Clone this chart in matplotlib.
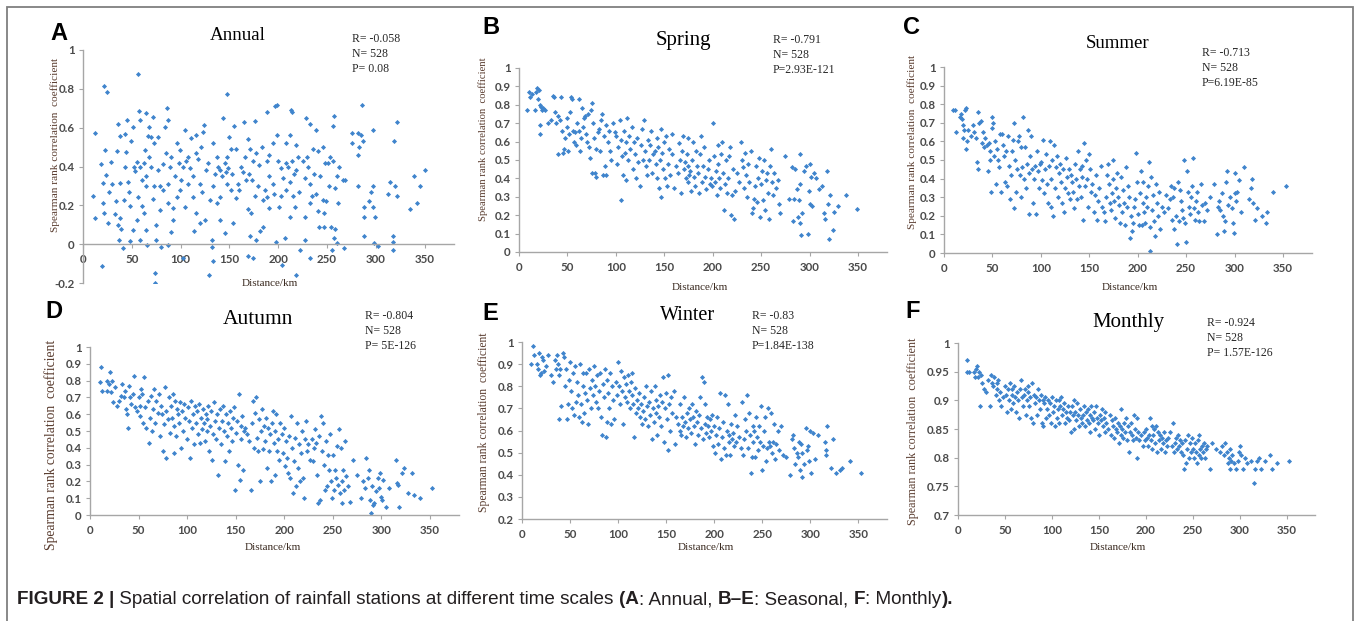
import numpy as np
import matplotlib
matplotlib.use("Agg")
import matplotlib.pyplot as plt
from matplotlib import font_manager
from matplotlib.patches import Rectangle

# ---- data: (distance km, Spearman rank correlation) ----
annual = np.array([
    (21,0.815),(25,0.786),(56,0.875),(147,0.772),(19,-0.11),(74,-0.146),(74,-0.2),(129,-0.16),(204,-0.106),(218,-0.158),
    (286,0.717),(197,0.71),(199,0.717),(188,0.68),(213,0.69),(214,0.68),(322,0.63),(297,0.59),(350,0.38),(339,0.35),
    (345,0.30),(342,0.21),(335,0.18),(319,0.53),(322,0.25),(320,0.30),(276,0.57),(282,0.57),(285,0.56),(287,0.53),
    (283,0.50),(282,0.46),(276,0.52),(297,0.30),(295,0.27),(293,0.22),(297,0.19),(288,0.19),(288,0.14),(299,0.14),
    (298,0.005),(302,-0.01),(312,0.26),(314,0.32),(318,0.04),(318,0.01),(318,-0.03),(288,0.04),(282,0.30),(256,0.61),
    (257,0.66),(253,0.45),(256,0.43),(251,0.42),(262,0.40),(260,0.35),(258,0.29),(261,0.21),(246,0.23),(249,0.22),
    (254,0.09),(258,0.08),(255,-0.03),(257,0.03),(266,0.33),(267,-0.02),(260,0.005),(228,0.65),(233,0.62),(239,0.59),
    (246,0.50),(241,0.48),(236,0.49),(229,0.45),(227,0.34),(232,0.31),(237,0.36),(239,0.26),(241,0.17),(233,0.21),
    (227,0.14),(242,0.09),(247,0.09),(227,0.02),(222,-0.03),(232,-0.07),(247,0.16),(203,0.39),(208,0.42),(212,0.56),
    (214,0.43),(218,0.38),(212,0.32),(208,0.28),(203,0.25),(215,0.25),(212,0.14),(217,0.19),(201,0.19),(198,0.01),
    (207,0.03),(199,0.56),(220,0.45),(218,0.51),(208,0.52),(195,0.52),(169,0.54),(171,0.49),(174,0.43),(177,0.47),
    (183,0.50),(188,0.43),(191,0.35),(179,0.30),(184,0.23),(176,0.25),(169,0.18),(172,0.16),(181,0.07),(184,0.09),
    (171,0.04),(177,0.02),(169,-0.06),(174,-0.07),(191,0.185),(195,0.31),(164,0.37),(159,0.31),(157,0.24),(165,0.63),
    (176,0.635),(188,0.245),(133,0.52),(137,0.45),(140,0.38),(145,0.42),(148,0.45),(152,0.49),(150,0.55),(155,0.61),
    (143,0.65),(142,0.35),(147,0.31),(152,0.28),(157,0.49),(162,0.40),(133,0.30),(137,0.21),(140,0.125),(145,0.06),
    (154,0.11),(132,0.02),(132,-0.015),(133,-0.085),(140,0.245),(130,0.23),(104,0.59),(111,0.545),(116,0.56),(123,0.58),
    (124,0.615),(121,0.50),(116,0.47),(108,0.45),(102,0.40),(113,0.35),(108,0.31),(120,0.31),(99,0.28),(96,0.245),
    (104,0.19),(113,0.245),(116,0.16),(120,0.11),(114,0.07),(125,0.125),(92,0.185),(92,0.125),(90,0.065),(102,-0.07),
    (96,0.52),(90,0.45),(99,0.485),(126,0.38),(57,0.685),(58,0.64),(65,0.675),(68,0.605),(72,0.655),(67,0.555),
    (70,0.55),(77,0.55),(73,0.52),(63,0.485),(55,0.425),(58,0.40),(65,0.35),(70,0.40),(73,0.30),(72,0.235),
    (65,0.30),(60,0.195),(56,0.245),(62,0.16),(65,0.075),(51,0.075),(55,0.125),(58,0.02),(66,-0.005),(75,0.02),
    (79,0.175),(79,0.30),(82,0.415),(84,0.605),(86,0.70),(87,0.64),(85,0.47),(89,0.40),(87,0.31),(87,0.21),
    (80,-0.015),(87,-0.005),(75,0.10),(10,0.25),(12,0.135),(12,0.575),(18,0.415),(20,0.315),(20,0.21),(24,0.355),
    (23,0.485),(26,0.11),(22,0.16),(29,0.425),(27,0.27),(33,0.155),(34,0.22),(36,0.62),(38,0.555),(38,0.315),
    (38,0.135),(39,0.08),(41,-0.02),(43,0.565),(44,0.475),(43,0.40),(45,0.64),(46,0.32),(48,0.195),(49,0.53),
    (51,0.605),(53,0.375),(48,0.015),(37,0.02),(36,0.10),(268,0.33),(167,0.33),(105,0.43),(110,0.39),(118,0.44),
    (122,0.27),(128,0.42),(135,0.36),(138,0.40),(146,0.37),(149,0.39),(153,0.36),(160,0.28),(166,0.45),(170,0.36),
    (173,0.33),(180,0.41),(186,0.28),(190,0.46),(196,0.26),(200,0.43),(205,0.34),(210,0.40),(216,0.36),(221,0.27),
    (225,0.43),(230,0.40),(235,0.25),(243,0.35),(248,0.42),(252,0.30),(94,0.35),(98,0.42),(100,0.33),(82,0.28),
    (77,0.38),(68,0.45),(60,0.33),(62,0.42),(52,0.40),(47,0.27),(42,0.23),(30,0.31),(35,0.48),
])

spring = np.array([
    (8,0.77),(10,0.87),(11,0.84),(13,0.86),(17,0.77),(18,0.87),(19,0.89),(20,0.83),(21,0.88),(22,0.80),
    (23,0.79),(24,0.77),(22,0.69),(22,0.64),(25,0.78),(27,0.77),(30,0.70),(33,0.72),(35,0.85),(36,0.84),
    (37,0.76),(38,0.70),(40,0.74),(40,0.53),(42,0.72),(43,0.84),(44,0.66),(45,0.54),(46,0.56),(48,0.62),
    (50,0.73),(50,0.68),(51,0.55),(52,0.64),(53,0.76),(54,0.84),(55,0.83),(56,0.66),(57,0.60),(58,0.65),
    (59,0.58),(60,0.70),(62,0.83),(62,0.66),(63,0.55),(64,0.62),(65,0.78),(66,0.68),(67,0.73),(68,0.74),
    (69,0.64),(70,0.60),(71,0.75),(72,0.57),(73,0.51),(74,0.77),(75,0.81),(75,0.43),(76,0.70),(77,0.62),
    (78,0.43),(79,0.56),(80,0.41),(82,0.65),(83,0.67),(84,0.55),(85,0.72),(86,0.75),(87,0.42),(88,0.63),
    (89,0.47),(90,0.69),(90,0.42),(92,0.60),(93,0.66),(94,0.55),(95,0.50),(97,0.70),(99,0.65),(100,0.63),
    (101,0.48),(102,0.57),(104,0.72),(105,0.28),(105,0.61),(106,0.52),(107,0.42),(108,0.66),(109,0.54),(110,0.39),
    (110,0.60),(112,0.73),(113,0.50),(114,0.63),(115,0.56),(117,0.68),(118,0.45),(119,0.60),(120,0.53),(121,0.40),
    (122,0.62),(123,0.49),(125,0.36),(126,0.58),(127,0.67),(128,0.50),(129,0.72),(130,0.55),(131,0.47),(132,0.42),
    (133,0.61),(134,0.50),(135,0.58),(136,0.66),(137,0.43),(138,0.53),(140,0.55),(141,0.48),(142,0.62),(143,0.40),
    (144,0.57),(145,0.35),(146,0.50),(147,0.30),(147,0.67),(148,0.54),(149,0.45),(150,0.60),(151,0.40),(152,0.63),
    (153,0.36),(154,0.48),(155,0.56),(156,0.42),(158,0.64),(158,0.53),(160,0.35),(162,0.47),(164,0.43),(165,0.59),
    (166,0.50),(167,0.32),(168,0.55),(169,0.63),(170,0.45),(171,0.49),(172,0.40),(173,0.53),(174,0.38),(175,0.47),
    (175,0.62),(176,0.42),(177,0.44),(178,0.33),(179,0.50),(180,0.60),(181,0.41),(182,0.36),(183,0.55),(184,0.47),
    (185,0.43),(186,0.32),(187,0.53),(188,0.63),(189,0.38),(190,0.47),(191,0.57),(192,0.41),(193,0.34),(195,0.45),
    (196,0.50),(197,0.37),(198,0.40),(199,0.36),(200,0.70),(201,0.52),(202,0.38),(203,0.44),(204,0.31),(205,0.48),
    (206,0.58),(207,0.40),(208,0.35),(209,0.53),(210,0.60),(211,0.43),(212,0.23),(213,0.37),(214,0.50),(215,0.32),
    (216,0.40),(217,0.52),(218,0.57),(219,0.20),(220,0.31),(221,0.45),(222,0.18),(223,0.33),(225,0.43),(227,0.38),
    (229,0.60),(230,0.50),(231,0.46),(232,0.35),(233,0.54),(234,0.42),(235,0.30),(236,0.48),(238,0.38),(240,0.55),
    (241,0.21),(242,0.24),(243,0.29),(244,0.36),(245,0.47),(246,0.27),(247,0.40),(248,0.51),(249,0.19),(250,0.37),
    (251,0.44),(252,0.28),(253,0.50),(254,0.23),(255,0.39),(256,0.43),(257,0.32),(258,0.18),(259,0.47),(260,0.56),
    (261,0.38),(262,0.31),(263,0.43),(265,0.35),(267,0.39),(268,0.26),(270,0.21),(275,0.52),(279,0.29),(282,0.46),
    (283,0.17),(284,0.29),(285,0.45),(287,0.34),(288,0.19),(289,0.28),(290,0.37),(290,0.53),(290,0.16),(291,0.09),
    (292,0.21),(294,0.44),(296,0.47),(298,0.10),(299,0.33),(300,0.26),(301,0.48),(302,0.41),(303,0.25),(305,0.43),
    (307,0.40),(310,0.34),(313,0.36),(315,0.21),(316,0.18),(318,0.44),(319,0.26),(321,0.31),(320,0.07),(325,0.22),
    (324,0.12),(329,0.25),(338,0.31),(349,0.235),
])

summer = np.array([
    (9,0.77),(11,0.77),(12,0.65),(17,0.73),(18,0.75),(19,0.72),(20,0.69),(20,0.62),(21,0.66),(22,0.77),
    (23,0.78),(23,0.56),(24,0.60),(25,0.66),(28,0.63),(30,0.69),(31,0.65),(33,0.62),(34,0.49),(35,0.76),
    (35,0.45),(36,0.70),(38,0.71),(39,0.59),(40,0.65),(41,0.57),(42,0.62),(44,0.58),(45,0.44),(46,0.59),
    (47,0.50),(48,0.55),(49,0.33),(50,0.73),(50,0.67),(51,0.70),(52,0.52),(53,0.60),(54,0.37),(55,0.56),
    (56,0.50),(57,0.46),(58,0.64),(59,0.33),(60,0.64),(61,0.58),(62,0.52),(63,0.38),(64,0.55),(65,0.36),
    (66,0.63),(67,0.47),(68,0.29),(69,0.42),(70,0.55),(71,0.61),(72,0.24),(72,0.70),(73,0.50),(74,0.33),
    (75,0.45),(76,0.60),(77,0.63),(78,0.42),(79,0.30),(80,0.57),(81,0.46),(82,0.73),(83,0.40),(84,0.57),
    (85,0.35),(86,0.48),(87,0.66),(88,0.21),(88,0.43),(89,0.52),(90,0.63),(91,0.45),(92,0.27),(93,0.40),
    (94,0.47),(95,0.21),(96,0.55),(97,0.44),(98,0.35),(99,0.48),(100,0.49),(101,0.39),(102,0.61),(103,0.32),
    (104,0.45),(105,0.53),(106,0.37),(107,0.27),(108,0.47),(109,0.60),(110,0.25),(111,0.40),(112,0.50),(113,0.20),
    (114,0.58),(115,0.35),(116,0.46),(117,0.52),(118,0.30),(119,0.43),(120,0.48),(121,0.38),(122,0.27),(123,0.45),
    (124,0.22),(125,0.35),(126,0.51),(127,0.41),(128,0.32),(129,0.45),(130,0.29),(131,0.42),(132,0.38),(133,0.33),
    (134,0.24),(135,0.48),(136,0.40),(137,0.29),(138,0.55),(139,0.36),(140,0.45),(141,0.30),(142,0.47),(143,0.41),
    (144,0.18),(145,0.59),(146,0.36),(147,0.50),(148,0.40),(149,0.25),(150,0.53),(151,0.45),(152,0.33),(153,0.37),
    (155,0.22),(156,0.31),(157,0.42),(158,0.18),(159,0.28),(160,0.35),(162,0.47),(163,0.25),(165,0.22),(166,0.17),
    (167,0.30),(168,0.42),(169,0.48),(170,0.37),(171,0.27),(172,0.23),(173,0.32),(174,0.40),(175,0.50),(176,0.28),
    (177,0.19),(178,0.35),(179,0.43),(180,0.30),(181,0.26),(182,0.16),(183,0.41),(184,0.22),(185,0.34),(186,0.27),
    (187,0.15),(188,0.46),(189,0.25),(190,0.36),(191,0.30),(192,0.08),(193,0.20),(194,0.12),(195,0.16),(196,0.25),
    (197,0.29),(198,0.54),(199,0.38),(200,0.21),(201,0.15),(202,0.32),(203,0.44),(204,0.15),(205,0.27),(206,0.38),
    (207,0.22),(208,0.16),(209,0.30),(210,0.25),(211,0.36),(212,0.49),(213,0.14),(213,0.01),(214,0.41),(215,0.23),
    (216,0.31),(217,0.17),(218,0.09),(219,0.37),(220,0.27),(221,0.20),(222,0.33),(223,0.13),(225,0.25),(227,0.22),
    (229,0.31),(231,0.24),(233,0.29),(234,0.36),(235,0.18),(236,0.30),(237,0.13),(238,0.35),(240,0.20),(241,0.05),
    (242,0.38),(243,0.17),(244,0.34),(245,0.28),(246,0.23),(247,0.19),(248,0.50),(249,0.16),(250,0.06),(251,0.44),
    (252,0.33),(253,0.25),(254,0.21),(255,0.30),(256,0.36),(257,0.51),(258,0.24),(259,0.18),(260,0.28),(261,0.33),
    (262,0.22),(263,0.17),(265,0.37),(266,0.26),(268,0.17),(270,0.27),(272,0.23),(275,0.30),(279,0.37),(282,0.10),
    (283,0.25),(284,0.28),(285,0.23),(287,0.32),(288,0.20),(289,0.12),(290,0.17),(291,0.38),(292,0.44),(293,0.26),
    (295,0.30),(297,0.24),(298,0.16),(299,0.11),(300,0.32),(301,0.43),(302,0.28),(303,0.33),(305,0.39),(307,0.22),
    (310,0.46),(315,0.29),(317,0.35),(318,0.40),(319,0.27),(321,0.18),(323,0.24),(328,0.20),(332,0.16),(334,0.22),
    (340,0.33),(353,0.36),
])

autumn = np.array([
    (10,0.79),(11,0.88),(12,0.74),(18,0.74),(18,0.80),(20,0.78),(21,0.85),(22,0.73),(23,0.80),(24,0.67),
    (26,0.76),(28,0.65),(30,0.68),(32,0.71),(33,0.78),(35,0.70),(36,0.74),(37,0.63),(38,0.60),(39,0.52),
    (40,0.77),(41,0.70),(42,0.66),(44,0.72),(45,0.83),(46,0.64),(48,0.62),(50,0.70),(51,0.65),(52,0.59),
    (53,0.75),(54,0.72),(55,0.55),(56,0.82),(57,0.64),(58,0.52),(60,0.68),(61,0.43),(62,0.58),(63,0.71),
    (64,0.50),(65,0.63),(66,0.75),(67,0.55),(68,0.68),(70,0.61),(71,0.72),(72,0.47),(73,0.65),(74,0.60),
    (75,0.38),(76,0.54),(77,0.76),(78,0.34),(78,0.62),(80,0.57),(81,0.70),(82,0.49),(83,0.65),(84,0.58),
    (85,0.72),(86,0.37),(87,0.53),(88,0.68),(89,0.47),(90,0.63),(91,0.60),(92,0.55),(93,0.67),(94,0.40),
    (95,0.62),(96,0.50),(97,0.66),(98,0.58),(100,0.45),(101,0.64),(102,0.56),(103,0.34),(104,0.68),(105,0.52),
    (106,0.60),(107,0.42),(108,0.65),(109,0.55),(110,0.62),(111,0.48),(112,0.66),(113,0.43),(114,0.58),(115,0.51),
    (116,0.63),(117,0.55),(118,0.44),(119,0.60),(120,0.50),(121,0.57),(122,0.65),(123,0.38),(124,0.53),(125,0.62),
    (126,0.33),(127,0.48),(128,0.67),(129,0.56),(130,0.45),(131,0.60),(132,0.24),(133,0.52),(134,0.63),(135,0.42),
    (136,0.56),(137,0.65),(138,0.50),(139,0.32),(140,0.60),(141,0.47),(142,0.55),(143,0.38),(144,0.62),(145,0.52),
    (146,0.44),(147,0.58),(148,0.64),(149,0.15),(150,0.49),(151,0.56),(152,0.30),(153,0.72),(154,0.21),(155,0.53),
    (156,0.45),(157,0.59),(158,0.27),(159,0.50),(160,0.52),(162,0.48),(164,0.44),(166,0.15),(167,0.55),(168,0.68),
    (169,0.40),(170,0.61),(171,0.70),(172,0.46),(173,0.38),(174,0.57),(175,0.20),(176,0.50),(177,0.63),(178,0.39),
    (179,0.53),(180,0.44),(181,0.58),(182,0.28),(183,0.52),(184,0.38),(185,0.48),(186,0.20),(187,0.55),(188,0.62),
    (189,0.43),(190,0.24),(191,0.50),(192,0.60),(193,0.38),(194,0.45),(195,0.33),(196,0.55),(198,0.48),(199,0.37),
    (200,0.52),(201,0.29),(202,0.44),(203,0.34),(204,0.25),(205,0.47),(206,0.22),(207,0.59),(208,0.40),(209,0.13),
    (210,0.32),(211,0.46),(212,0.17),(213,0.55),(214,0.28),(215,0.42),(216,0.20),(217,0.37),(218,0.50),(219,0.22),
    (220,0.10),(221,0.45),(222,0.56),(223,0.38),(225,0.42),(227,0.33),(229,0.45),(230,0.32),(231,0.40),(232,0.51),
    (233,0.43),(234,0.24),(235,0.07),(236,0.47),(237,0.09),(238,0.59),(239,0.38),(240,0.55),(241,0.30),(242,0.15),
    (243,0.44),(244,0.17),(245,0.36),(246,0.27),(247,0.48),(248,0.20),(249,0.10),(250,0.36),(251,0.15),(252,0.27),
    (253,0.22),(254,0.41),(255,0.18),(256,0.51),(257,0.13),(258,0.40),(259,0.07),(260,0.20),(261,0.27),(262,0.15),
    (263,0.44),(264,0.23),(266,0.17),(268,0.08),(271,0.33),(275,0.24),(279,0.10),(281,0.20),(283,0.16),(284,0.34),
    (286,0.22),(287,0.27),(288,0.09),(289,0.01),(290,0.17),(291,0.06),(292,0.07),(295,0.14),(297,0.22),(298,0.16),
    (299,0.25),(300,0.11),(301,0.09),(302,0.21),(305,0.05),(308,0.16),(315,0.33),(316,0.19),(317,0.18),(318,0.05),
    (321,0.25),(323,0.28),(327,0.13),(332,0.25),(334,0.12),(340,0.10),(352,0.16),
])

winter = np.array([
    (9,0.90),(11,0.98),(12,0.94),(16,0.90),(17,0.88),(18,0.95),(19,0.85),(20,0.86),(21,0.93),(22,0.92),
    (23,0.87),(25,0.89),(27,0.94),(30,0.85),(32,0.82),(34,0.92),(35,0.88),(36,0.94),(37,0.90),(38,0.85),
    (39,0.65),(40,0.88),(41,0.71),(43,0.95),(44,0.93),(45,0.80),(46,0.88),(47,0.65),(48,0.72),(49,0.83),
    (50,0.91),(51,0.78),(52,0.70),(53,0.86),(54,0.67),(55,0.89),(56,0.73),(57,0.82),(58,0.76),(59,0.66),
    (60,0.90),(61,0.72),(62,0.64),(63,0.80),(64,0.86),(65,0.68),(66,0.77),(67,0.86),(68,0.74),(69,0.63),
    (70,0.88),(71,0.79),(72,0.70),(73,0.83),(74,0.76),(75,0.89),(76,0.80),(77,0.73),(78,0.85),(79,0.70),
    (80,0.78),(81,0.86),(82,0.66),(83,0.58),(84,0.81),(85,0.75),(86,0.88),(87,0.57),(88,0.64),(89,0.83),
    (90,0.77),(91,0.70),(92,0.86),(93,0.63),(94,0.80),(95,0.74),(96,0.65),(98,0.82),(99,0.76),(100,0.91),
    (101,0.80),(102,0.72),(103,0.87),(104,0.78),(105,0.63),(106,0.84),(107,0.75),(108,0.81),(109,0.73),(110,0.85),
    (111,0.78),(112,0.70),(113,0.82),(114,0.76),(115,0.86),(116,0.72),(117,0.57),(118,0.79),(119,0.68),(120,0.74),
    (121,0.70),(122,0.77),(123,0.66),(124,0.72),(125,0.63),(126,0.69),(127,0.75),(128,0.65),(129,0.80),(130,0.71),
    (131,0.62),(132,0.73),(133,0.67),(134,0.78),(135,0.56),(136,0.70),(137,0.64),(138,0.80),(139,0.68),(140,0.74),
    (141,0.58),(142,0.71),(143,0.66),(144,0.76),(145,0.62),(146,0.73),(147,0.84),(148,0.55),(149,0.70),(150,0.77),
    (151,0.65),(152,0.51),(152,0.85),(153,0.72),(154,0.60),(155,0.75),(156,0.68),(158,0.78),(159,0.54),(160,0.66),
    (162,0.63),(164,0.60),(165,0.72),(166,0.58),(167,0.66),(168,0.62),(169,0.75),(170,0.64),(171,0.57),(172,0.68),
    (173,0.61),(174,0.70),(175,0.65),(176,0.59),(177,0.72),(178,0.66),(179,0.62),(180,0.54),(181,0.69),(182,0.64),
    (183,0.58),(184,0.67),(185,0.75),(186,0.61),(187,0.84),(188,0.56),(189,0.82),(190,0.63),(191,0.72),(192,0.59),
    (193,0.66),(194,0.62),(195,0.57),(196,0.65),(197,0.60),(198,0.67),(199,0.53),(200,0.62),(201,0.50),(202,0.58),
    (203,0.66),(204,0.54),(205,0.61),(206,0.77),(207,0.47),(208,0.57),(209,0.64),(210,0.52),(211,0.76),(212,0.49),
    (213,0.60),(214,0.72),(215,0.55),(216,0.58),(217,0.49),(218,0.63),(219,0.56),(220,0.59),(221,0.53),(222,0.67),
    (223,0.55),(224,0.62),(226,0.57),(228,0.52),(229,0.73),(230,0.49),(231,0.56),(232,0.65),(233,0.60),(234,0.76),
    (235,0.52),(236,0.68),(237,0.58),(238,0.41),(239,0.48),(240,0.62),(241,0.55),(242,0.60),(243,0.48),(244,0.66),
    (245,0.57),(246,0.51),(247,0.62),(248,0.55),(249,0.71),(250,0.42),(251,0.53),(252,0.60),(253,0.66),(254,0.46),
    (255,0.52),(256,0.70),(257,0.55),(258,0.53),(259,0.68),(260,0.50),(261,0.55),(262,0.63),(263,0.47),(264,0.54),
    (266,0.60),(268,0.51),(270,0.62),(272,0.49),(275,0.48),(279,0.40),(281,0.56),(282,0.58),(283,0.52),(284,0.45),
    (286,0.50),(287,0.48),(288,0.55),(289,0.42),(290,0.54),(291,0.39),(292,0.50),(294,0.45),(296,0.61),(297,0.51),
    (298,0.53),(299,0.46),(300,0.60),(301,0.41),(303,0.59),(305,0.47),(308,0.58),(318,0.62),(315,0.55),(316,0.51),
    (317,0.49),(322,0.43),(324,0.56),(327,0.41),(331,0.42),(333,0.43),(341,0.46),(353,0.41),
])

monthly = np.array([
    (10,0.97),(10,0.95),(12,0.95),(17,0.95),(18,0.94),(19,0.955),(20,0.96),(21,0.94),(22,0.95),(23,0.89),
    (24,0.945),(26,0.93),(28,0.92),(30,0.915),(32,0.935),(34,0.89),(35,0.945),(36,0.93),(37,0.925),(38,0.94),
    (40,0.91),(41,0.93),(42,0.92),(43,0.935),(44,0.90),(45,0.915),(46,0.89),(48,0.905),(50,0.925),(51,0.91),
    (52,0.88),(53,0.92),(54,0.90),(55,0.93),(56,0.885),(57,0.91),(58,0.92),(59,0.895),(60,0.925),(61,0.905),
    (62,0.88),(63,0.915),(64,0.90),(65,0.87),(66,0.92),(67,0.935),(68,0.905),(69,0.89),(70,0.91),(71,0.92),
    (72,0.875),(73,0.90),(74,0.915),(75,0.925),(76,0.89),(77,0.905),(78,0.87),(79,0.93),(80,0.86),(81,0.91),
    (82,0.895),(83,0.905),(84,0.875),(85,0.92),(86,0.90),(87,0.885),(88,0.91),(89,0.86),(90,0.90),(91,0.855),
    (92,0.895),(93,0.905),(94,0.87),(95,0.885),(96,0.90),(97,0.875),(98,0.895),(99,0.86),(100,0.905),(101,0.88),
    (102,0.89),(103,0.855),(104,0.90),(105,0.87),(106,0.885),(107,0.90),(108,0.86),(109,0.89),(110,0.905),(111,0.875),
    (112,0.885),(113,0.895),(114,0.86),(115,0.88),(116,0.87),(117,0.89),(118,0.865),(119,0.88),(120,0.845),(121,0.89),
    (122,0.875),(123,0.90),(124,0.85),(125,0.88),(126,0.865),(127,0.895),(128,0.875),(129,0.855),(130,0.885),(131,0.87),
    (132,0.86),(133,0.875),(134,0.89),(135,0.855),(136,0.88),(137,0.865),(138,0.885),(139,0.86),(140,0.875),(141,0.845),
    (142,0.89),(143,0.87),(144,0.865),(145,0.88),(146,0.85),(147,0.89),(148,0.87),(149,0.86),(150,0.84),(151,0.875),
    (152,0.865),(153,0.885),(154,0.855),(155,0.87),(156,0.845),(157,0.88),(158,0.86),(160,0.85),(162,0.875),(163,0.84),
    (164,0.865),(165,0.855),(166,0.835),(167,0.87),(168,0.85),(169,0.845),(170,0.86),(171,0.825),(172,0.855),(173,0.885),
    (174,0.84),(175,0.85),(176,0.835),(177,0.86),(178,0.845),(179,0.87),(180,0.83),(181,0.855),(182,0.81),(183,0.845),
    (184,0.86),(185,0.84),(186,0.83),(187,0.875),(188,0.85),(189,0.835),(190,0.80),(191,0.87),(192,0.845),(193,0.83),
    (195,0.84),(197,0.82),(198,0.845),(199,0.83),(200,0.85),(201,0.835),(202,0.82),(203,0.84),(204,0.87),(205,0.83),
    (206,0.855),(207,0.815),(208,0.84),(209,0.85),(210,0.825),(211,0.855),(212,0.81),(213,0.845),(214,0.83),(215,0.84),
    (216,0.815),(217,0.835),(218,0.825),(219,0.845),(220,0.81),(221,0.83),(222,0.82),(224,0.835),(226,0.845),(228,0.82),
    (229,0.86),(230,0.81),(231,0.825),(232,0.835),(233,0.815),(234,0.84),(235,0.82),(236,0.83),(237,0.81),(238,0.825),
    (240,0.805),(241,0.78),(242,0.83),(243,0.79),(244,0.815),(245,0.84),(246,0.80),(247,0.825),(248,0.81),(249,0.835),
    (250,0.815),(251,0.80),(252,0.825),(253,0.81),(254,0.79),(255,0.83),(256,0.805),(257,0.84),(258,0.815),(259,0.80),
    (260,0.82),(261,0.81),(262,0.825),(263,0.80),(264,0.815),(265,0.82),(268,0.78),(270,0.825),(275,0.815),(279,0.81),
    (281,0.82),(283,0.805),(284,0.825),(286,0.81),(287,0.79),(288,0.80),(289,0.815),(290,0.78),(291,0.795),(292,0.805),
    (294,0.79),(296,0.78),(298,0.795),(299,0.81),(300,0.82),(301,0.805),(303,0.78),(305,0.80),(308,0.79),(312,0.795),
    (315,0.755),(316,0.78),(318,0.795),(320,0.80),(322,0.78),(327,0.795),(332,0.805),(334,0.78),(340,0.79),(352,0.795),
])

panel_letters = ["A", "B", "C", "D", "E", "F"]
panel_titles = ["Annual", "Spring", "Summer", "Autumn", "Winter", "Monthly"]
panel_R = ["-0.058", "-0.791", "-0.713", "-0.804", "-0.83", "-0.924"]
panel_N = ["528"] * 6
panel_P = ["P= 0.08", "P=2.93E-121", "P=6.19E-85", "P= 5E-126", "P=1.84E-138", "P= 1.57E-126"]
panel_data = [annual, spring, summer, autumn, winter, monthly]
y_ranges = [(-0.2, 1.0, 0.2), (0, 1.0, 0.1), (0, 1.0, 0.1), (0, 1.0, 0.1), (0.2, 1.0, 0.1), (0.7, 1.0, 0.05)]
x_ticks = [0, 50, 100, 150, 200, 250, 300, 350]

# ---- layout (pixels in a 1356 x 621 canvas) ----
W, H = 1356, 621
# axes: left, right (x = 380 km), top (y max), bottom (y min)
axes_px = [(83, 454, 50, 283), (519, 887, 68, 252), (944, 1312, 67, 253),
           (90, 459, 347, 515), (522, 887, 342, 519), (958, 1315, 343, 515)]
title_px = [(238, 35), (683, 40), (1118, 43), (258, 320), (688, 315), (1128, 322)]
title_size = [13.7, 15, 13.5, 15.5, 14.5, 15]
stats_px = [(352, 33), (773, 34), (1202, 47), (365, 310), (752, 310), (1207, 317)]
letter_px = [(50, 33), (482, 28), (903, 28), (45, 312), (482, 313), (905, 311)]
ylab_px = [(55, 145), (483, 139), (912, 142), (51, 445), (484, 422), (913, 431)]
ylab_size = [8.1, 7.7, 8.1, 9.8, 8.4, 8.7]
xlab_px = [(270, 283), (700, 287), (1130, 287), (273, 548), (706, 548), (1118, 548)]


def fx(px):
    return px / W


def fy(py):
    return 1 - py / H


serif = ["Liberation Serif", "DejaVu Serif"]
names = {f.name for f in font_manager.fontManager.ttflist}
cap_font = "Liberation Sans Narrow" if "Liberation Sans Narrow" in names else "Liberation Sans"
cap_size = 12.8 if cap_font.endswith("Narrow") else 13.6

fig = plt.figure(figsize=(W / 100, H / 100), dpi=100)
fig.patch.set_facecolor("white")

# outer frame
fig.patches.append(Rectangle((fx(7), fy(640)), fx(1353) - fx(7), fy(7) - fy(640),
                             transform=fig.transFigure, fill=False, edgecolor="#7f7f7f", lw=1.3))

blue = "#3f84cc"
axis_grey = "#a6a6a6"

for i in range(6):
    l, r, t, b = axes_px[i]
    ax = fig.add_axes([fx(l), fy(b), (r - l) / W, (b - t) / H])
    d = panel_data[i]
    ax.plot(d[:, 0], d[:, 1], linestyle="none", marker="D", markersize=2.6,
            color=blue, markeredgewidth=0)
    y0, y1, step = y_ranges[i]
    ax.set_xlim(0, 380)
    ax.set_ylim(y0, y1)
    yt = np.round(np.arange(y0, y1 + step / 2, step), 2)
    ax.set_yticks(yt)
    ax.set_yticklabels([f"{v:g}" for v in yt])
    ax.set_xticks(x_ticks)
    ax.set_xticklabels([str(v) for v in x_ticks])
    for s in ["top", "right"]:
        ax.spines[s].set_visible(False)
    for s in ["left", "bottom"]:
        ax.spines[s].set_color(axis_grey)
        ax.spines[s].set_linewidth(1.0)
    if y0 < 0:
        ax.spines["bottom"].set_position(("data", 0))
    ax.tick_params(direction="out", length=3, width=0.8, color=axis_grey,
                   labelsize=8.3, labelcolor="#4a4a4a", pad=4)
    ax.tick_params(axis="y", pad=3)
    for lab in ax.get_xticklabels() + ax.get_yticklabels():
        lab.set_family(["Lato", "DejaVu Sans"])
        lab.set_fontweight("bold")
    ax.patch.set_alpha(0)

    tx, ty = title_px[i]
    fig.text(fx(tx), fy(ty), panel_titles[i], ha="center", va="center",
             family=serif, fontsize=title_size[i], color="black")
    sx, sy = stats_px[i]
    fig.text(fx(sx), fy(sy), f"R= {panel_R[i]}\nN= {panel_N[i]}\n{panel_P[i]}",
             ha="left", va="top", family=serif, fontsize=8.5, color="#262626",
             linespacing=1.35)
    lx, ly = letter_px[i]
    fig.text(fx(lx), fy(ly), panel_letters[i], ha="left", va="center",
             family=["Liberation Sans", "DejaVu Sans"], fontweight="bold", fontsize=17)
    yx, yy = ylab_px[i]
    fig.text(fx(yx), fy(yy), "Spearman rank correlation  coefficient", rotation=90,
             ha="center", va="center", family=serif, fontsize=ylab_size[i], color="#5a3d30")
    xx, xy = xlab_px[i]
    fig.text(fx(xx), fy(xy), "Distance/km", ha="center", va="center",
             family=serif, fontsize=8, color="#3a2a20")

# caption with mixed bold / regular runs
pieces = [("FIGURE 2 |", "bold"),
          (" Spatial correlation of rainfall stations at different time scales ", "normal"),
          ("(A", "bold"), (": Annual, ", "normal"), ("B\u2013E", "bold"),
          (": Seasonal, ", "normal"), ("F", "bold"), (": Monthly", "normal"), (").", "bold")]
renderer = fig.canvas.get_renderer()
x_cur = fx(17)
for txt, wgt in pieces:
    t = fig.text(x_cur, fy(600), txt, ha="left", va="center", family=[cap_font, "DejaVu Sans"],
                 fontweight=wgt, fontsize=cap_size, color="#231f20")
    bb = t.get_window_extent(renderer=renderer)
    x_cur += bb.width / W

fig.savefig("out.png", dpi=100, facecolor="white")
